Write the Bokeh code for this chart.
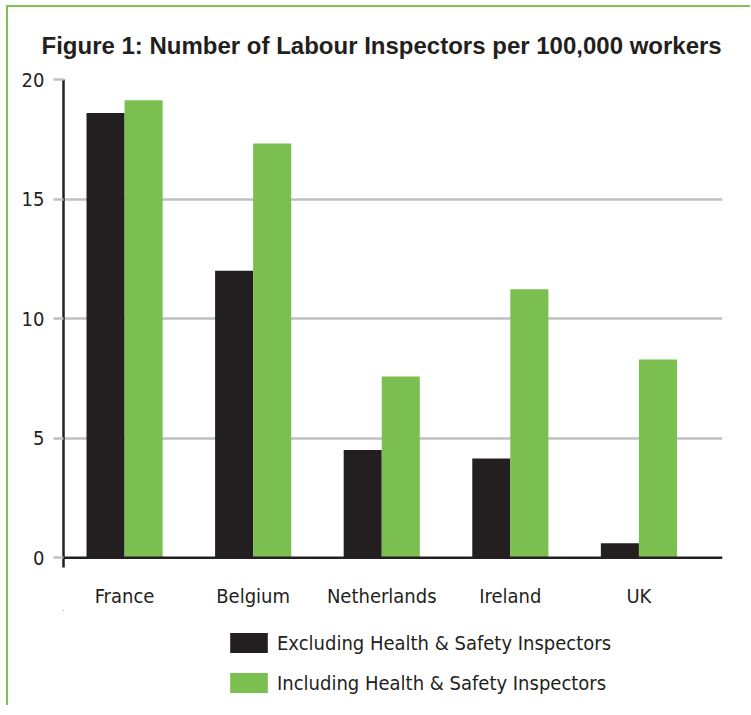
from bokeh.plotting import figure
from bokeh.models import ColumnDataSource, Range1d, Legend, LegendItem, Span, FixedTicker
from bokeh.layouts import column
from bokeh.transform import dodge
from bokeh.embed import file_html
from bokeh.resources import INLINE

countries = ["France", "Belgium", "Netherlands", "Ireland", "UK"]
excluding = [18.6, 12.0, 4.5, 4.15, 0.6]
including = [19.13, 17.32, 7.58, 11.23, 8.29]
y_ticks = [0, 5, 10, 15, 20]
series_labels = ["Excluding Health & Safety Inspectors", "Including Health & Safety Inspectors"]

BLACK = "#231f20"
GREEN = "#7abf4f"
GRID = "#bfc0c3"
FONT = "Liberation Sans Narrow, DejaVu Sans Condensed, sans-serif"

src = ColumnDataSource(dict(idx=list(range(len(countries))), exc=excluding, inc=including))

p = figure(width=742, height=603, output_backend="svg", toolbar_location=None,
           x_range=Range1d(-0.475, 4.65), y_range=Range1d(-0.41, 20),
           min_border_left=55, min_border_right=28, min_border_top=72, min_border_bottom=38)

p.title.text = "Figure 1: Number of Labour Inspectors per 100,000 workers"
p.title.text_font = "Liberation Sans"
p.title.text_font_size = "24px"
p.title.text_font_style = "bold"
p.title.text_color = BLACK
p.title.align = "left"
p.title.offset = -22
p.title.standoff = 42

p.vbar(x=dodge("idx", -0.148, range=p.x_range), top="exc", width=0.296, source=src,
       fill_color=BLACK, line_color=None)
p.vbar(x=dodge("idx", 0.148, range=p.x_range), top="inc", width=0.296, source=src,
       fill_color=GREEN, line_color=None)

p.outline_line_color = None
p.xgrid.visible = False
p.ygrid.ticker = FixedTicker(ticks=y_ticks[1:])
p.ygrid.grid_line_color = GRID
p.ygrid.grid_line_width = 2.5

p.yaxis.ticker = FixedTicker(ticks=y_ticks)
p.yaxis.axis_line_color = BLACK
p.yaxis.axis_line_width = 2.5
p.yaxis.major_tick_line_color = GRID
p.yaxis.major_tick_line_width = 2.5
p.yaxis.major_tick_out = 10
p.yaxis.major_tick_in = 0
p.yaxis.minor_tick_line_color = None
p.yaxis.major_label_text_font = FONT
p.yaxis.major_label_text_font_size = "20px"
p.yaxis.major_label_text_color = BLACK
p.yaxis.major_label_standoff = 9

p.xaxis.ticker = FixedTicker(ticks=list(range(len(countries))))
p.xaxis.major_label_overrides = {i: c for i, c in enumerate(countries)}
p.xaxis.axis_line_color = None
p.xaxis.major_tick_line_color = None
p.xaxis.minor_tick_line_color = None
p.xaxis.major_label_text_font = FONT
p.xaxis.major_label_text_font_size = "20px"
p.xaxis.major_label_text_color = BLACK
p.xaxis.major_label_standoff = 10

p.add_layout(Span(location=0, dimension="width", line_color=BLACK, line_width=2.5))

# legend-only strip below the chart (its bars lie outside its view; only the legend shows)
p2 = figure(width=742, height=95, output_backend="svg", toolbar_location=None,
            x_range=Range1d(20, 21), y_range=Range1d(-30, -29), x_axis_type=None, y_axis_type=None,
            min_border=0)
p2.outline_line_color = None
p2.xgrid.visible = False
p2.ygrid.visible = False
l1 = p2.vbar(x="idx", top="exc", width=0.296, source=src, fill_color=BLACK, line_color=None)
l2 = p2.vbar(x="idx", top="inc", width=0.296, source=src, fill_color=GREEN, line_color=None)
legend = Legend(items=[LegendItem(label=series_labels[0], renderers=[l1]),
                       LegendItem(label=series_labels[1], renderers=[l2])],
                location=(162, 10), orientation="vertical",
                glyph_width=47, glyph_height=25, spacing=15, label_standoff=5,
                label_text_font=FONT, label_text_font_size="20px", label_text_color=BLACK,
                border_line_color=None, background_fill_alpha=0, padding=0, margin=0)
p2.add_layout(legend, "center")

layout = column(p, p2, spacing=0,
                styles={"border-left": "2.5px solid #7dc250", "border-top": "2.5px solid #7dc250",
                        "margin-left": "6px", "margin-top": "5px"})

open("out.html", "w").write(file_html(layout, INLINE))
